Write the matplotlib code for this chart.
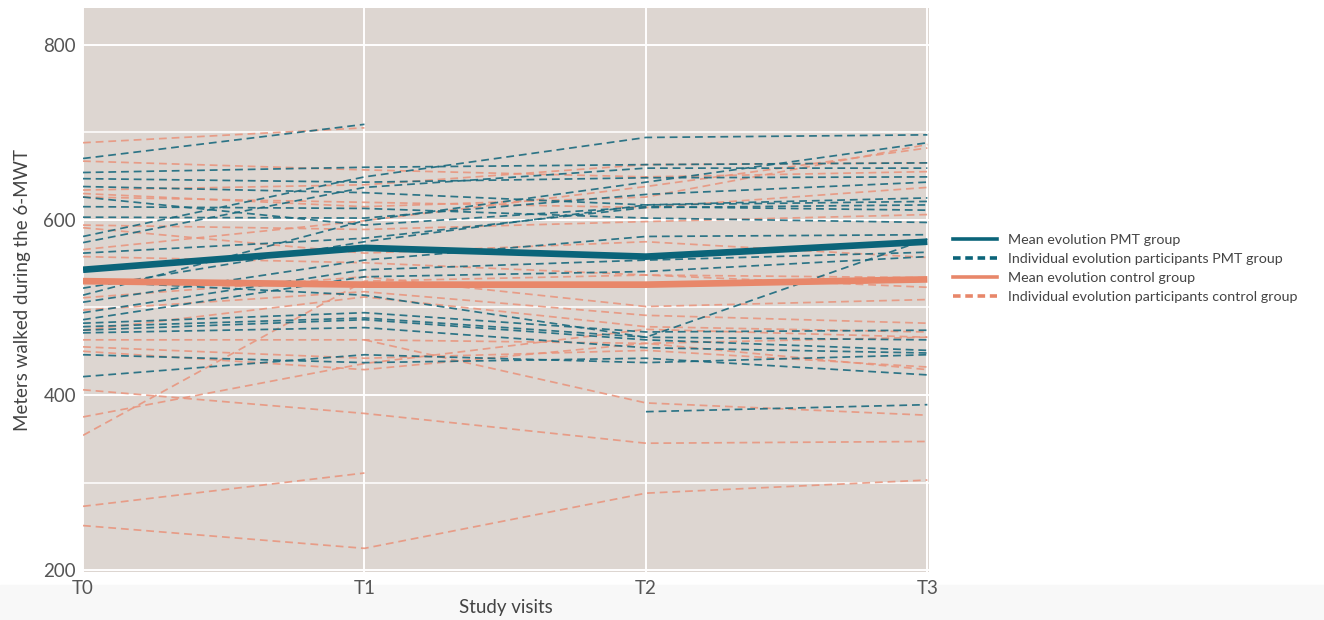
import numpy as np
import matplotlib
matplotlib.use("Agg")
import matplotlib.pyplot as plt
from matplotlib.lines import Line2D
from matplotlib.patches import Rectangle

nan = np.nan

visits = ["T0", "T1", "T2", "T3"]

# 6-MWT distance (m) per participant at each visit, nan = missed visit
pmt_individual = [
    [670, 709, nan, nan],
    [654, 660, 663, 665],
    [647, 643, 648, 649],
    [638, 631, 617, 621],
    [626, 594, 615, 611],
    [615, 613, 602, 597],
    [603, 602, 629, 643],
    [581, 649, 694, 697],
    [574, 637, 659, 659],
    [562, 579, 614, 617],
    [522, 575, 617, 625],
    [514, 599, 643, 688],
    [506, 554, 581, 583],
    [494, 543, 554, 563],
    [486, 535, 541, 558],
    [482, 494, 472, 474],
    [478, 488, 466, 463],
    [474, 486, 463, 451],
    [471, 477, 454, 448],
    [446, 437, 442, 423],
    [421, 446, 437, 446],
    [530, 514, 466, 578],
    [nan, nan, 381, 389],
]

control_individual = [
    [688, 705, nan, nan],
    [667, 657, 649, 655],
    [634, 640, 663, 665],
    [630, 615, 626, 686],
    [626, 620, 614, 637],
    [594, 589, 598, 606],
    [591, 562, 575, 557],
    [566, 599, 638, 682],
    [558, 551, 537, 523],
    [511, 535, 501, 509],
    [497, 518, 491, 482],
    [474, 512, 478, 472],
    [463, 463, 459, 466],
    [455, 442, 451, 432],
    [450, 429, 459, 429],
    [406, 379, 345, 347],
    [375, 436, 475, 466],
    [354, 530, 537, 534],
    [nan, 463, 391, 377],
    [273, 311, nan, nan],
    [251, 225, 288, 303],
]

pmt_mean = [543, 568, 558, 575]
control_mean = [530, 526, 526, 532]

teal = "#0b6479"
teal_dash = "#1a6a7e"
salmon = "#e8876a"
salmon_dash = "#e9927a"
bg = "#ddd6d1"

plt.rcParams["font.family"] = ["Lato", "DejaVu Sans"]

fig = plt.figure(figsize=(13.24, 6.2), dpi=100)
fig.patches.append(Rectangle((0, 0), 1, 0.057, transform=fig.transFigure,
                             color="#f8f8f8", zorder=-1))
ax = fig.add_axes([0.0627, 0.0774, 0.639, 0.910])
ax.set_facecolor(bg)

x = np.arange(len(visits))

for row in control_individual:
    ax.plot(x, row, color=salmon_dash, lw=1.25, dashes=(4.5, 2.8), alpha=0.85, zorder=2)
for row in pmt_individual:
    ax.plot(x, row, color=teal_dash, lw=1.25, dashes=(4.5, 2.8), alpha=0.9, zorder=3)

ax.plot(x, control_mean, color=salmon, lw=4.8, solid_joinstyle="round",
        solid_capstyle="butt", zorder=4)
ax.plot(x, pmt_mean, color=teal, lw=4.8, solid_joinstyle="round",
        solid_capstyle="butt", zorder=5)

ax.set_xlim(0, 3.006)
ax.set_ylim(198, 842)
ax.set_xticks(x)
ax.set_xticklabels(visits)
ax.set_yticks([200, 400, 600, 800])
ax.set_yticks([300, 500, 700], minor=True)
ax.grid(True, which="major", color="white", lw=1.4, zorder=1)
ax.grid(True, which="minor", axis="y", color="white", lw=1.1, zorder=1)
ax.set_axisbelow(True)
for s in ax.spines.values():
    s.set_visible(False)
ax.tick_params(axis="both", which="both", length=0, labelsize=13.5, colors="#555555")
ax.tick_params(axis="y", pad=5)
ax.tick_params(axis="x", pad=6)

ax.set_ylabel("Meters walked during the 6-MWT", fontsize=13.5, color="#444444", labelpad=9)
ax.set_xlabel("Study visits", fontsize=13.5, color="#444444", labelpad=1)

handles = [
    Line2D([], [], color=teal, lw=2.6),
    Line2D([], [], color=teal, lw=2.6, dashes=(2.1, 1.3)),
    Line2D([], [], color=salmon, lw=2.6),
    Line2D([], [], color=salmon, lw=2.6, dashes=(2.1, 1.3)),
]
labels = [
    "Mean evolution PMT group",
    "Individual evolution participants PMT group",
    "Mean evolution control group",
    "Individual evolution participants control group",
]
leg = fig.legend(handles, labels, loc="upper left", bbox_to_anchor=(0.7155, 0.632),
                 frameon=False, fontsize=10.3, handlelength=3.1, handletextpad=0.75,
                 labelspacing=0.48, borderaxespad=0)
for t in leg.get_texts():
    t.set_color("#444444")

fig.savefig("out.png", dpi=100)
